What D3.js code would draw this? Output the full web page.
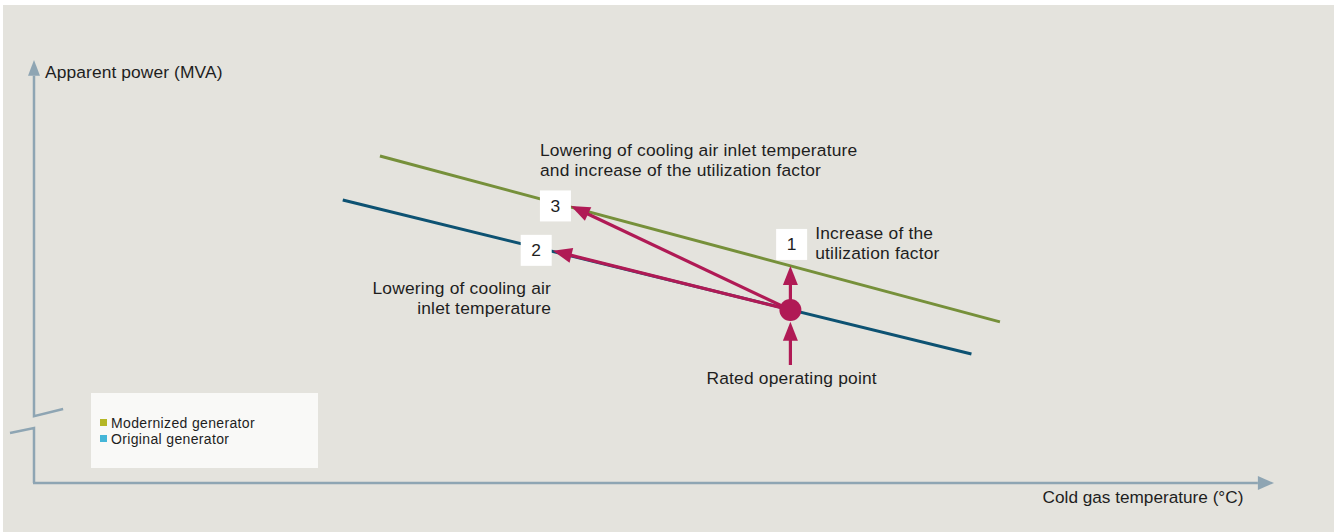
<!DOCTYPE html>
<html>
<head>
<meta charset="utf-8">
<script src="https://cdn.jsdelivr.net/npm/d3@7"></script>
<style>
  html, body { margin: 0; padding: 0; background: #ffffff; }
  svg { display: block; }
  text { font-family: "Liberation Sans", Arial, sans-serif; fill: #1e1e1e; }
</style>
</head>
<body>
<div id="chart"></div>
<script>
// ---- Data (abstract units: temperature 0-100, power 0-100) ----
const seriesNames = ["Modernized generator", "Original generator"];
const seriesColors = ["#76903a", "#0d5272"];
const legendColors = ["#b5b726", "#45b6d8"];
const modernizedLine = [{t: 27.9, p: 77.3}, {t: 77.9, p: 38.1}];
const originalLine   = [{t: 24.9, p: 66.9}, {t: 75.6, p: 30.5}];
const ratedPoint = {t: 61.0, p: 40.9};
// arrows from rated point to targets
const arrowTargets = [
  {id: "1", t: 61.0, p: 51.3},
  {id: "2", t: 41.85, p: 54.9},
  {id: "3", t: 43.3, p: 65.5}
];
const lowerArrow = {from: {t: 61.0, p: 27.9}, to: {t: 61.0, p: 38.1}};
const numberBoxes = [
  {id: "1", t: 61.1, p: 56.4},
  {id: "2", t: 40.5, p: 55.0},
  {id: "3", t: 42.05, p: 65.5}
];
const annotations = [
  {lines: ["Lowering of cooling air inlet temperature", "and increase of the utilization factor"], t: 40.8, p: 77.4, anchor: "start"},
  {lines: ["Increase of the", "utilization factor"], t: 63.0, p: 57.7, anchor: "start"},
  {lines: ["Lowering of cooling air", "inlet temperature"], t: 41.7, p: 44.7, anchor: "end"},
  {lines: ["Rated operating point"], t: 61.1, p: 23.4, anchor: "middle"}
];
const yAxisLabel = "Apparent power (MVA)";
const xAxisLabel = "Cold gas temperature (\u00B0C)";

// ---- Layout ----
const W = 1334, H = 532;
const svg = d3.select("#chart").append("svg").attr("width", W).attr("height", H);
svg.append("rect").attr("x", 3).attr("y", 5).attr("width", W - 3).attr("height", H - 5).attr("fill", "#e4e3dd");

const x = d3.scaleLinear().domain([0, 100]).range([34, 1274]);
const y = d3.scaleLinear().domain([0, 100]).range([483, 60]);

const axisColor = "#8ea5b3";
const accent = "#b01a55";
const annoSize = 17.4;

// Y axis with break
const yAxis = svg.append("g");
yAxis.append("path")
  .attr("d", `M${x(0)},${y(0)} L${x(0)},${y(13.0)} L${x(0)-24},${y(11.8)}`)
  .attr("fill", "none").attr("stroke", axisColor).attr("stroke-width", 2.5);
yAxis.append("path")
  .attr("d", `M${x(2.35)},${y(17.5)} L${x(0)},${y(15.8)} L${x(0)},${y(96.3)}`)
  .attr("fill", "none").attr("stroke", axisColor).attr("stroke-width", 2.5);
yAxis.append("path")
  .attr("d", `M${x(0)},${y(100)} L${x(0)-6},${y(96.3)} L${x(0)+6},${y(96.3)} Z`)
  .attr("fill", axisColor);
svg.append("text").attr("x", x(0) + 11).attr("y", 78).attr("font-size", 17.4).attr("letter-spacing", 0.1).text(yAxisLabel);

// X axis
svg.append("line").attr("x1", x(0) - 1).attr("x2", x(98.7)).attr("y1", y(0)).attr("y2", y(0))
  .attr("stroke", axisColor).attr("stroke-width", 2.5);
svg.append("path")
  .attr("d", `M${x(100)},${y(0)} L${x(98.7)},${y(0)-7} L${x(98.7)},${y(0)+7} Z`)
  .attr("fill", axisColor);
svg.append("text").attr("x", 1143).attr("y", 503).attr("text-anchor", "middle").attr("font-size", 17.2).text(xAxisLabel);

// Legend
const lg = svg.append("g");
lg.append("rect").attr("x", 91).attr("y", 393).attr("width", 227).attr("height", 75).attr("fill", "#f9f9f7");
seriesNames.forEach((n, i) => {
  lg.append("rect").attr("x", 100).attr("y", 419 + i * 16).attr("width", 7).attr("height", 7).attr("fill", legendColors[i]);
  lg.append("text").attr("x", 111).attr("y", 427.5 + i * 16).attr("font-size", 14).attr("letter-spacing", 0.35).text(n);
});

// Lines
const line = d3.line().x(d => x(d.t)).y(d => y(d.p));
[modernizedLine, originalLine].forEach((data, i) => {
  svg.append("path").datum(data).attr("d", line).attr("fill", "none")
    .attr("stroke", seriesColors[i]).attr("stroke-width", 3);
});

// Arrow helper
function arrow(fx, fy, tx, ty) {
  const ang = Math.atan2(ty - fy, tx - fx);
  const len = 19, hw = 7.5;
  const bx = tx - len * Math.cos(ang), by = ty - len * Math.sin(ang);
  svg.append("line").attr("x1", fx).attr("y1", fy).attr("x2", bx + 2 * Math.cos(ang)).attr("y2", by + 2 * Math.sin(ang))
    .attr("stroke", accent).attr("stroke-width", 3.2);
  const px = -Math.sin(ang), py = Math.cos(ang);
  svg.append("path")
    .attr("d", `M${tx},${ty} L${bx + px * hw},${by + py * hw} L${bx - px * hw},${by - py * hw} Z`)
    .attr("fill", accent);
}
arrowTargets.forEach(a => arrow(x(ratedPoint.t), y(ratedPoint.p), x(a.t), y(a.p)));
arrow(x(lowerArrow.from.t), y(lowerArrow.from.p), x(lowerArrow.to.t), y(lowerArrow.to.p));

svg.append("circle").attr("cx", x(ratedPoint.t)).attr("cy", y(ratedPoint.p)).attr("r", 11).attr("fill", accent);

// Number boxes
numberBoxes.forEach(b => {
  const cx = x(b.t), cy = y(b.p);
  svg.append("rect").attr("x", cx - 15.5).attr("y", cy - 15.5).attr("width", 31).attr("height", 31).attr("fill", "#ffffff");
  svg.append("text").attr("x", cx).attr("y", cy + 6).attr("text-anchor", "middle").attr("font-size", annoSize).text(b.id);
});

// Annotations (one text element per line)
annotations.forEach(a => {
  a.lines.forEach((l, i) => {
    svg.append("text").attr("x", x(a.t)).attr("y", y(a.p) + i * 20)
      .attr("text-anchor", a.anchor).attr("font-size", annoSize).attr("letter-spacing", 0.2).text(l);
  });
});
</script>
</body>
</html>
